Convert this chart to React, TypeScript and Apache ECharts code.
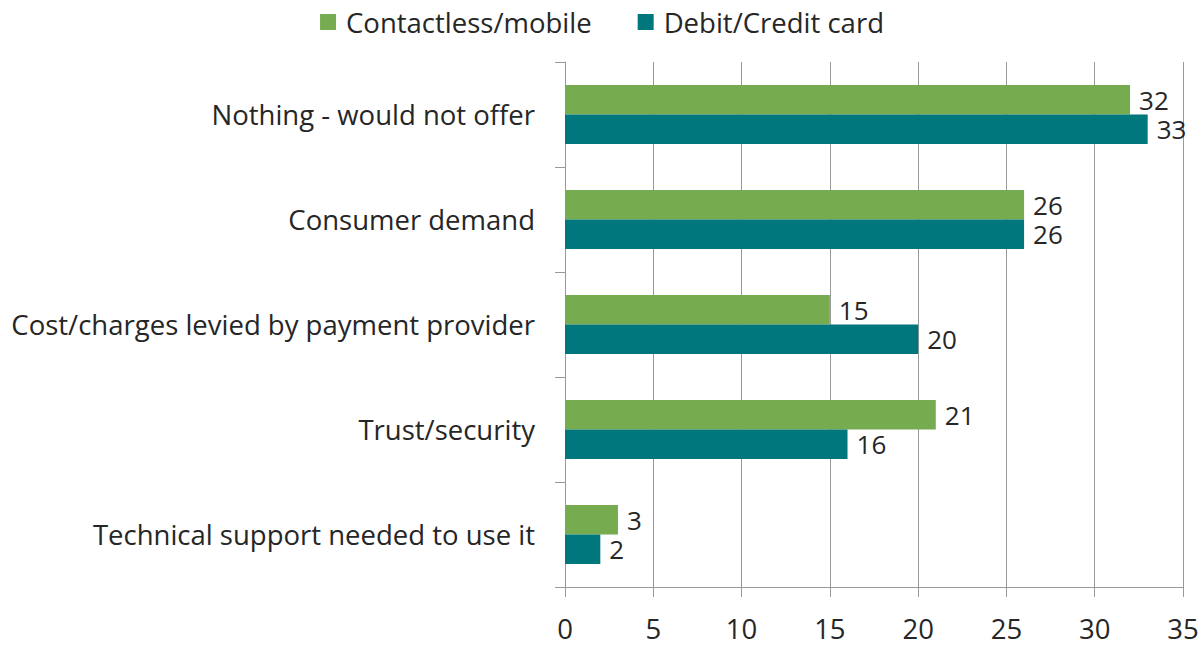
import React, { useEffect, useRef } from "react";
import * as echarts from "echarts";

const categories = [
  "Nothing - would not offer",
  "Consumer demand",
  "Cost/charges levied by payment provider",
  "Trust/security",
  "Technical support needed to use it",
];
const contactless = [32, 26, 15, 21, 3];
const card = [33, 26, 20, 16, 2];
const seriesNames = ["Contactless/mobile", "Debit/Credit card"];
const xTicks = { min: 0, max: 35, interval: 5 };

const FONT = "'Open Sans', 'Noto Sans', sans-serif";

export default function App() {
  const ref = useRef<HTMLDivElement>(null);
  useEffect(() => {
    document.body.style.margin = "0";
    if (!ref.current) return;
    const chart = echarts.init(ref.current, undefined, { renderer: "svg" });
    const label = {
      show: true,
      position: "right" as const,
      distance: 9,
      color: "#262626",
      fontSize: 26,
      lineHeight: 26,
      fontFamily: FONT,
    };
    chart.setOption({
      animation: false,
      textStyle: { fontFamily: FONT },
      legend: {
        top: 3,
        left: "center",
        itemWidth: 16,
        itemHeight: 16,
        itemGap: 46,
        icon: "rect",
        textStyle: {
          fontSize: 27.5,
          color: "#262626",
          fontFamily: FONT,
          padding: [0, 0, 0, 5],
        },
        data: seriesNames,
      },
      grid: { left: 565, right: 21, top: 62, bottom: 59, containLabel: false },
      xAxis: {
        type: "value",
        min: xTicks.min,
        max: xTicks.max,
        interval: xTicks.interval,
        axisLine: { show: true, lineStyle: { color: "#999", width: 1 } },
        axisTick: { show: true, length: 10, lineStyle: { color: "#999" } },
        splitLine: { show: true, lineStyle: { color: "#999", width: 1 } },
        axisLabel: { fontSize: 27.5, color: "#262626", margin: 27, fontFamily: FONT },
      },
      yAxis: {
        type: "category",
        inverse: true,
        data: categories,
        axisLine: { show: true, lineStyle: { color: "#999", width: 1 } },
        axisTick: { show: true, length: 10, lineStyle: { color: "#999" } },
        axisLabel: { fontSize: 27.5, color: "#262626", margin: 30, fontFamily: FONT },
      },
      series: [
        {
          name: seriesNames[0],
          type: "bar",
          data: contactless,
          itemStyle: { color: "#77AB50" },
          barGap: "0%",
          barCategoryGap: "44%",
          label,
        },
        {
          name: seriesNames[1],
          type: "bar",
          data: card,
          itemStyle: { color: "#00777C" },
          barGap: "0%",
          barCategoryGap: "44%",
          label,
        },
      ],
    });
    return () => chart.dispose();
  }, []);
  return <div ref={ref} style={{ width: 1204, height: 646 }} />;
}
